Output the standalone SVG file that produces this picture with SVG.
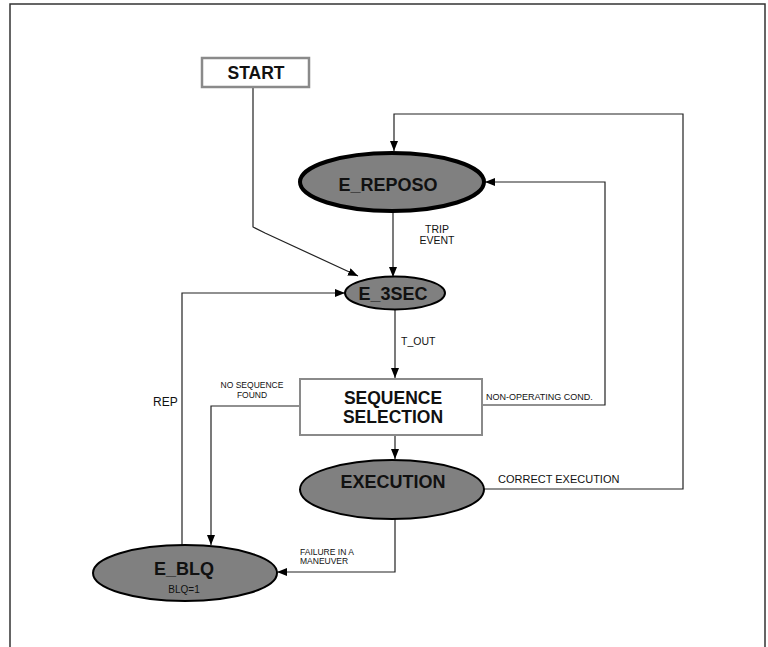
<svg xmlns="http://www.w3.org/2000/svg" width="768" height="647" viewBox="0 0 768 647">
<style>
.lbl{font-family:"Liberation Sans",Arial,sans-serif;fill:#111}
.b{font-weight:bold}
.conn{fill:none;stroke:#222;stroke-width:1.2}
.box{fill:#fff;stroke:#8a8a8a;stroke-width:2}
.st{fill:#808080;stroke:#000;stroke-width:2}
</style>
<defs>
<marker id="ah" markerUnits="userSpaceOnUse" markerWidth="10" markerHeight="8" refX="10" refY="4" orient="auto">
<path d="M0,0 L10,4 L0,8 Z" fill="#000"/>
</marker>
</defs>
<rect width="768" height="647" fill="#fff"/>
<path d="M10,660 V4 H765 V660" fill="none" stroke="#333" stroke-width="1.5"/>
<g id="connectors">
<polyline class="conn" points="253,87 253,227 265,233 358,276" marker-end="url(#ah)"/>
<polyline class="conn" points="393,212 393,277" marker-end="url(#ah)"/>
<polyline class="conn" points="182,545 182,293 345,293" marker-end="url(#ah)"/>
<polyline class="conn" points="395,309 395,378" marker-end="url(#ah)"/>
<polyline class="conn" points="300,406 211,406 211,545" marker-end="url(#ah)"/>
<polyline class="conn" points="482,405 605,405 605,182 485,182" marker-end="url(#ah)"/>
<polyline class="conn" points="395,435 395,459" marker-end="url(#ah)"/>
<polyline class="conn" points="484,489 683,489 683,114 394,114 394,151" marker-end="url(#ah)"/>
<polyline class="conn" points="395,519 395,572 277,572" marker-end="url(#ah)"/>
<text class="lbl" x="437" y="233" font-size="10.5" text-anchor="middle">TRIP</text>
<text class="lbl" x="437" y="244" font-size="10.5" text-anchor="middle">EVENT</text>
<text class="lbl" x="401" y="345" font-size="10.5">T_OUT</text>
<text class="lbl" x="252" y="388" font-size="8.5" text-anchor="middle">NO SEQUENCE</text>
<text class="lbl" x="252" y="398" font-size="8.5" text-anchor="middle">FOUND</text>
<text class="lbl" x="153" y="406" font-size="12">REP</text>
<text class="lbl" x="486" y="400" font-size="9">NON-OPERATING COND.</text>
<text class="lbl" x="498" y="483" font-size="11">CORRECT EXECUTION</text>
<text class="lbl" x="300" y="555" font-size="8.5">FAILURE IN A</text>
<text class="lbl" x="300" y="564" font-size="8.5">MANEUVER</text>
</g>
<g id="start">
<rect x="202" y="58" width="107" height="29" fill="#fff" stroke="#8a8a8a" stroke-width="2.5"/>
<text class="lbl b" x="256" y="79" font-size="17.5" text-anchor="middle">START</text>
</g>
<g id="e_reposo">
<ellipse cx="392" cy="182" rx="92" ry="29" fill="#808080" stroke="#000" stroke-width="4"/>
<text class="lbl b" x="388" y="191" font-size="18" text-anchor="middle">E_REPOSO</text>
</g>
<g id="e_3sec">
<ellipse class="st" cx="395" cy="293" rx="50" ry="16.5"/>
<text class="lbl b" x="393" y="300" font-size="18" text-anchor="middle">E_3SEC</text>
</g>
<g id="sequence_selection">
<rect class="box" x="300" y="379" width="182" height="56"/>
<text class="lbl b" x="393" y="404" font-size="17.5" text-anchor="middle">SEQUENCE</text>
<text class="lbl b" x="393" y="423" font-size="17.5" text-anchor="middle">SELECTION</text>
</g>
<g id="execution">
<ellipse class="st" cx="392" cy="489.5" rx="92" ry="29.5"/>
<text class="lbl b" x="393" y="488" font-size="18" text-anchor="middle">EXECUTION</text>
</g>
<g id="e_blq">
<ellipse class="st" cx="185" cy="573" rx="92" ry="28"/>
<text class="lbl b" x="184" y="575" font-size="18" text-anchor="middle">E_BLQ</text>
<text class="lbl" x="184" y="593" font-size="10" text-anchor="middle">BLQ=1</text>
</g>
</svg>
